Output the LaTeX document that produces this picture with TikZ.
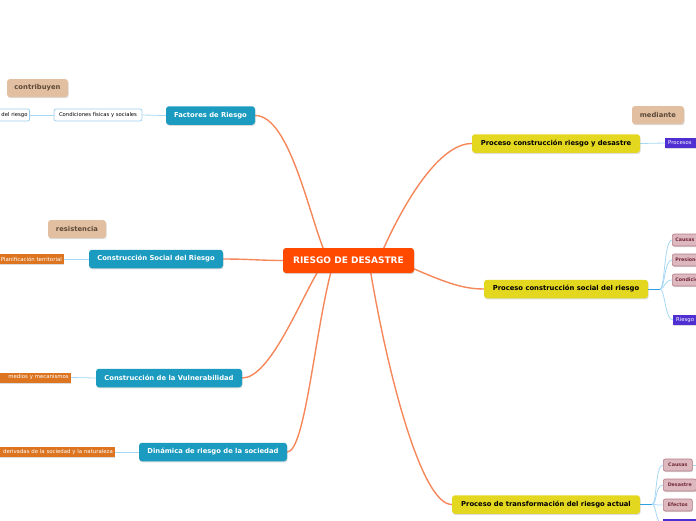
\documentclass[tikz,border=0pt]{standalone}
\usepackage{fontspec}
\setmainfont{DejaVu Sans}
\usetikzlibrary{shadows,backgrounds}
\definecolor{cCenter}{HTML}{FF4A00}
\definecolor{cTeal}{HTML}{1A9BBF}
\definecolor{cYellow}{HTML}{E4D71F}
\definecolor{cTan}{HTML}{E2BFA0}
\definecolor{cTanText}{HTML}{5C4A3A}
\definecolor{cOrange}{HTML}{DC7420}
\definecolor{cPurple}{HTML}{4F2FD2}
\definecolor{cPink}{HTML}{DDB8BE}
\definecolor{cPinkBorder}{HTML}{B47B87}
\definecolor{cPinkText}{HTML}{74283A}
\definecolor{cLink}{HTML}{F5875A}
\definecolor{cLightBlue}{HTML}{A6D7F4}
\definecolor{cBlue}{HTML}{2F9DE2}
\definecolor{cWhiteBorder}{HTML}{9FD0EE}
\tikzset{
  boxshadow/.style={drop shadow={opacity=0.28,shadow xshift=0.6pt,shadow yshift=-1.2pt}},
  centerbox/.style={fill=cCenter,text=white,rounded corners=3pt,inner sep=0pt,
    minimum width=131pt,minimum height=25pt,font=\bfseries\fontsize{9}{10}\selectfont,boxshadow},
  tealbox/.style={fill=cTeal,text=white,rounded corners=3pt,inner sep=0pt,
    minimum height=18.5pt,font=\bfseries\fontsize{6.8}{8}\selectfont,boxshadow},
  yellowbox/.style={fill=cYellow,text=black,rounded corners=3pt,inner sep=0pt,
    minimum height=18.5pt,font=\bfseries\fontsize{6.8}{8}\selectfont,boxshadow},
  tanbox/.style={fill=cTan,text=cTanText,rounded corners=3pt,inner sep=0pt,
    minimum height=18pt,font=\bfseries\fontsize{6.8}{8}\selectfont,boxshadow},
  whitebox/.style={fill=white,draw=cWhiteBorder,line width=0.8pt,rounded corners=2pt,inner ysep=0pt,
    inner xsep=2pt,minimum height=12pt,font=\fontsize{5.3}{6}\selectfont},
  orangebox/.style={fill=cOrange,text=white,inner ysep=0pt,inner xsep=2pt,
    minimum height=10pt,font=\fontsize{5.4}{6}\selectfont,boxshadow},
  purplebox/.style={fill=cPurple,text=white,inner ysep=0pt,inner xsep=3pt,
    minimum height=10pt,font=\fontsize{5.3}{6}\selectfont,boxshadow},
  pinkbox/.style={fill=cPink,draw=cPinkBorder,line width=0.6pt,text=cPinkText,rounded corners=2pt,
    inner ysep=0pt,inner xsep=3pt,minimum height=12pt,font=\bfseries\fontsize{4.8}{5.5}\selectfont,boxshadow},
  mainlink/.style={draw=cLink,line width=1.4pt,line cap=round},
  sublink/.style={draw=cLightBlue,line width=0.8pt},
  bluelink/.style={draw=cBlue,line width=1pt},
}
\begin{document}
\begin{tikzpicture}[x=1pt,y=-1pt]
\useasboundingbox (0,0) rectangle (696,520);
\clip (0,0) rectangle (696,520);

% centre
\node[centerbox] (c) at (348.5,260.5) {RIESGO DE DESASTRE};

% left side
\node[tealbox,minimum width=89pt] (f) at (210.5,115.5) {Factores de Riesgo};
\node[whitebox,minimum width=88pt] (fc) at (98,115) {Condiciones físicas y sociales};
\node[whitebox,anchor=east,text width=50pt,align=right] (fd) at (30,115) {del riesgo};
\node[tanbox,minimum width=61pt] (t1) at (37.5,88) {contribuyen};

\node[tealbox,minimum width=134pt] (cs) at (156,259) {Construcción Social del Riesgo};
\node[orangebox,anchor=east,text width=70pt,align=right] (cso) at (64,259) {Planificación territorial};
\node[tanbox,minimum width=58pt] (t2) at (77,229) {resistencia};

\node[tealbox,minimum width=146pt] (cv) at (169,378) {Construcción de la Vulnerabilidad};
\node[orangebox,anchor=east,text width=80pt,align=right] (cvo) at (71,377.5) {medios y mecanismos};

\node[tealbox,minimum width=148pt] (dr) at (213,452) {Dinámica de riesgo de la sociedad};
\node[orangebox,anchor=east,text width=125pt,align=right] (dro) at (115,452) {derivadas de la sociedad y la naturaleza};

% right side
\node[yellowbox,minimum width=168pt] (prd) at (556,143.5) {Proceso construcción riesgo y desastre};
\node[tanbox,minimum width=52pt] (t3) at (658,115) {mediante};
\node[purplebox,anchor=west,text width=60pt,align=left] (prp) at (665,143) {Procesos};

\node[yellowbox,minimum width=164pt] (pcs) at (566,289) {Proceso construcción social del riesgo};
\node[pinkbox,anchor=west,text width=60pt,align=left] (a1) at (672,240) {Causas};
\node[pinkbox,anchor=west,text width=60pt,align=left] (a2) at (672,260) {Presiones};
\node[pinkbox,anchor=west,text width=60pt,align=left] (a3) at (672,280) {Condiciones};
\node[purplebox,anchor=west,text width=60pt,align=left] (a4) at (673,320) {Riesgo};

\node[yellowbox,minimum width=188pt] (pt) at (546,504.5) {Proceso de transformación del riesgo actual};
\node[pinkbox,anchor=west,minimum width=29pt] (b1) at (663,465) {Causas};
\node[pinkbox,anchor=west,minimum width=33pt] (b2) at (663,485) {Desastre};
\node[pinkbox,anchor=west,minimum width=29pt] (b3) at (663,505) {Efectos};
\node[purplebox,anchor=west,minimum width=40pt] (b4) at (663,524) {};

% connectors
\coordinate (cA) at (326,255);
\coordinate (cB) at (382,252);
\coordinate (cC) at (405,265);
\coordinate (cD) at (320,268);
\coordinate (cE) at (332,268);
\coordinate (cF) at (370,268);
\coordinate (j1) at (660,289);
\coordinate (j2) at (652,504.5);
\coordinate (b1r) at (700,465);
\begin{pgfonlayer}{background}
\draw[mainlink] (f.east) .. controls +(35,0) and +(-16,-35) .. (cA);
\draw[mainlink] (prd.west) .. controls +(-32,0) and +(23,-52) .. (cB);
\draw[mainlink] (cs.east) .. controls +(25,0) and +(-20,0) .. (c.west);
\draw[mainlink] (cC) .. controls +(35,15) and +(-24,0) .. (pcs.west);
\draw[mainlink] (cv.east) .. controls +(28,0) and +(-20,32) .. (cD);
\draw[mainlink] (dr.east) .. controls +(18,0) and +(-17,62) .. (cE);
\draw[mainlink] (pt.west) .. controls +(-32,0) and +(15,92) .. (cF);

\draw[sublink] (f.west) -- (fc.east);
\draw[sublink] (fc.west) -- (fd.east);
\draw[sublink] (cs.west) -- (cso.east);
\draw[sublink] (cv.west) -- (cvo.east);
\draw[sublink] (dr.west) -- (dro.east);
\draw[sublink] (prd.east) -- (prp.west);

\draw[bluelink] (pcs.east) -- (j1);
\foreach \n in {a1,a2,a3,a4}
  \draw[sublink] (j1) .. controls +(5,0) and +(-8,0) .. (\n.west);
\draw[bluelink] (pt.east) -- (j2);
\foreach \n in {b1,b2,b3,b4}
  \draw[sublink] (j2) .. controls +(5,0) and +(-8,0) .. (\n.west);
\draw[sublink] (b1.east) -- (b1r);
\end{pgfonlayer}
\end{tikzpicture}
\end{document}
